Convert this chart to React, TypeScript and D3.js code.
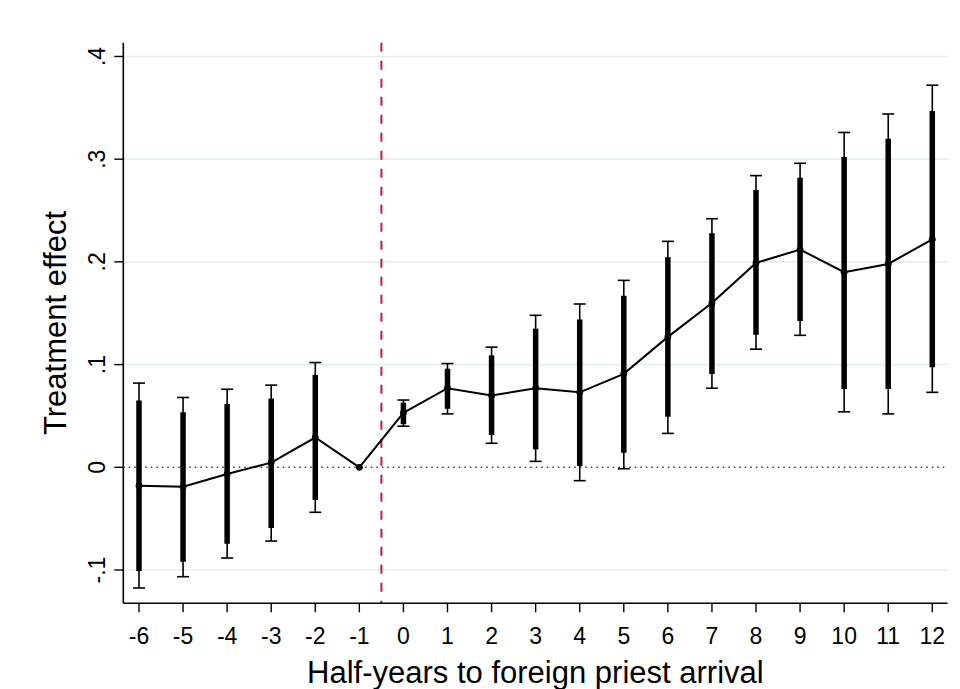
import React from "react";
import * as d3 from "d3";

const periods = [-6, -5, -4, -3, -2, -1, 0, 1, 2, 3, 4, 5, 6, 7, 8, 9, 10, 11, 12];
const estimates = [-0.018, -0.019, -0.0065, 0.0045, 0.029, 0, 0.053, 0.077, 0.070, 0.077, 0.073, 0.091, 0.127, 0.160, 0.199, 0.212, 0.190, 0.198, 0.222];
const ci90Low = [-0.101, -0.092, -0.0744, -0.059, -0.0318, NaN, 0.042, 0.057, 0.0315, 0.0175, 0.0013, 0.0142, 0.0493, 0.0908, 0.129, 0.1425, 0.0762, 0.0762, 0.0974];
const ci90High = [0.065, 0.0535, 0.0616, 0.067, 0.090, NaN, 0.063, 0.096, 0.109, 0.135, 0.144, 0.167, 0.2045, 0.228, 0.270, 0.282, 0.302, 0.320, 0.347];
const ci95Low = [-0.1175, -0.1065, -0.0883, -0.0718, -0.0438, NaN, 0.040, 0.052, 0.0234, 0.0058, -0.013, -0.0014, 0.033, 0.077, 0.115, 0.1285, 0.054, 0.052, 0.073];
const ci95High = [0.082, 0.068, 0.076, 0.080, 0.102, NaN, 0.0655, 0.101, 0.117, 0.148, 0.159, 0.182, 0.220, 0.242, 0.284, 0.296, 0.326, 0.344, 0.372];
const yTicks = [-0.1, 0, 0.1, 0.2, 0.3, 0.4];
const yTickLabels = ["-.1", "0", ".1", ".2", ".3", ".4"];
const treatmentLine = -0.5;
const xTitle = "Half-years to foreign priest arrival";
const yTitle = "Treatment effect";

const W = 960;
const H = 689;
const left = 123.3;
const right = 947.5;
const top = 42.7;
const bottom = 603.3;
const FONT = "Arial, 'Liberation Sans', Helvetica, sans-serif";

export default function App() {
  const x = d3.scaleLinear().domain([-6.356, 12.345]).range([left, right]);
  const y = d3.scaleLinear().domain([-0.1324, 0.4134]).range([bottom, top]);
  const line = d3
    .line<number>()
    .x((_, i) => x(periods[i]))
    .y((d) => y(d));
  const capHalf = 6;

  return (
    <svg
      width={W}
      height={H}
      style={{ position: "absolute", left: 0, top: 0, background: "#fff" }}
      fontFamily={FONT}
    >
      <rect x={0} y={0} width={W} height={H} fill="#fff" />
      {/* gridlines */}
      {yTicks.map((t) =>
        t === 0 ? null : (
          <line key={"g" + t} x1={left} x2={right} y1={y(t)} y2={y(t)} stroke="#e4eef1" strokeWidth={1.6} />
        )
      )}
      {/* zero reference */}
      <line x1={left} x2={right} y1={y(0)} y2={y(0)} stroke="#3c4245" strokeWidth={1.5} strokeDasharray="1.5,4" />
      {/* treatment line */}
      <line
        x1={x(treatmentLine)}
        x2={x(treatmentLine)}
        y1={top}
        y2={bottom}
        stroke="#cc1744"
        strokeWidth={2}
        strokeDasharray="9,9"
      />
      {/* 95% CI thin lines with caps */}
      {periods.map((p, i) =>
        isNaN(ci95Low[i]) ? null : (
          <g key={"c95" + p} stroke="#000" strokeWidth={1.6}>
            <line x1={x(p)} x2={x(p)} y1={y(ci95Low[i])} y2={y(ci95High[i])} />
            <line x1={x(p) - capHalf} x2={x(p) + capHalf} y1={y(ci95Low[i])} y2={y(ci95Low[i])} />
            <line x1={x(p) - capHalf} x2={x(p) + capHalf} y1={y(ci95High[i])} y2={y(ci95High[i])} />
          </g>
        )
      )}
      {/* 90% CI thick bars */}
      {periods.map((p, i) =>
        isNaN(ci90Low[i]) ? null : (
          <line
            key={"c90" + p}
            x1={x(p)}
            x2={x(p)}
            y1={y(ci90Low[i])}
            y2={y(ci90High[i])}
            stroke="#000"
            strokeWidth={5.5}
          />
        )
      )}
      {/* connecting line */}
      <path d={line(estimates) || ""} fill="none" stroke="#000" strokeWidth={2} />
      {estimates.map((e, i) => (
        <circle key={"p" + i} cx={x(periods[i])} cy={y(e)} r={3.4} fill="#000" />
      ))}
      {/* axes */}
      <line x1={left} x2={left} y1={top} y2={bottom} stroke="#000" strokeWidth={1.6} />
      <line x1={left} x2={right} y1={bottom} y2={bottom} stroke="#000" strokeWidth={1.6} />
      {yTicks.map((t, i) => (
        <g key={"yt" + t}>
          <line x1={left - 9} x2={left} y1={y(t)} y2={y(t)} stroke="#000" strokeWidth={1.4} />
          <text
            transform={`translate(${104.5},${y(t)}) rotate(-90)`}
            textAnchor="middle"
            fontSize={23}
            fill="#000"
          >
            {yTickLabels[i]}
          </text>
        </g>
      ))}
      {periods.map((p) => (
        <g key={"xt" + p}>
          <line x1={x(p)} x2={x(p)} y1={bottom} y2={bottom + 9} stroke="#000" strokeWidth={1.4} />
          <text x={x(p)} y={643.5} textAnchor="middle" fontSize={23} fill="#000">
            {String(p)}
          </text>
        </g>
      ))}
      <text x={(left + right) / 2} y={683} textAnchor="middle" fontSize={31} fill="#000">
        {xTitle}
      </text>
      <text
        transform={`translate(${65.5},${(top + bottom) / 2}) rotate(-90)`}
        textAnchor="middle"
        fontSize={31}
        fill="#000"
      >
        {yTitle}
      </text>
    </svg>
  );
}
